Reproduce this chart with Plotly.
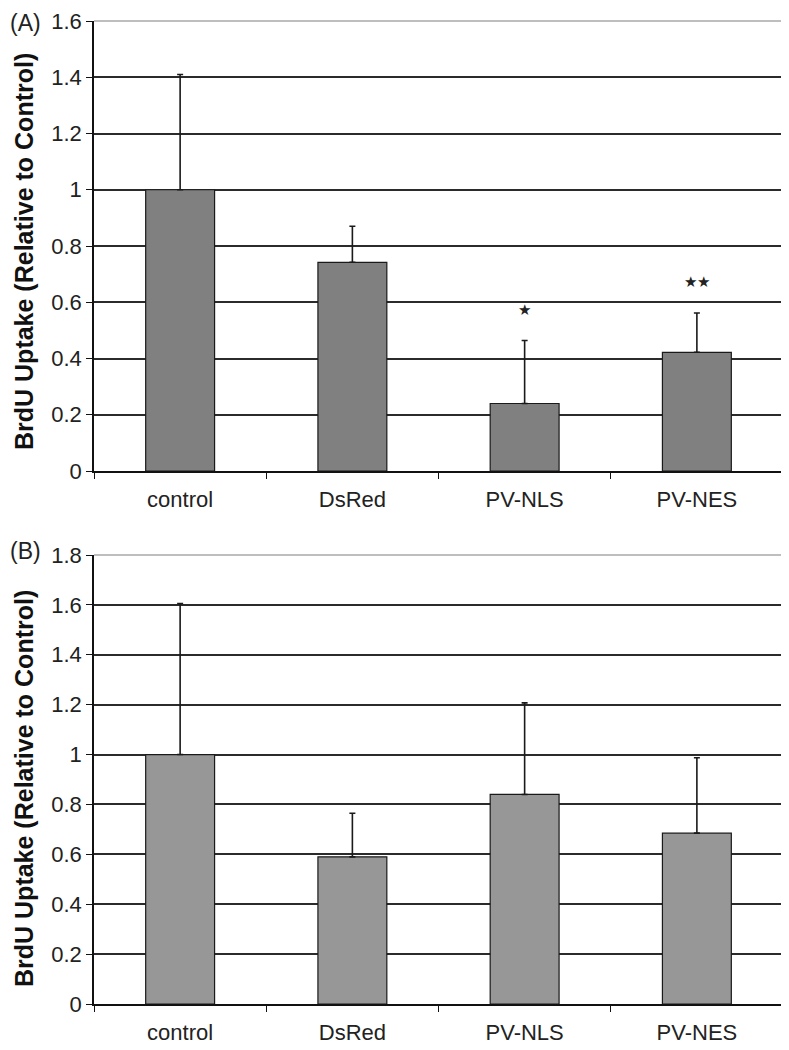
import plotly.graph_objects as go

# --- dati ---
categories = ["control", "DsRed", "PV-NLS", "PV-NES"]

a_values = [1.0, 0.742, 0.24, 0.422]
a_err_up = [0.41, 0.128, 0.224, 0.14]
a_marks = ["", "", "*", "**"]

b_values = [1.0, 0.59, 0.84, 0.685]
b_err_up = [0.605, 0.175, 0.367, 0.302]

a_ticks = [0, 0.2, 0.4, 0.6, 0.8, 1.0, 1.2, 1.4, 1.6]
b_ticks = [0, 0.2, 0.4, 0.6, 0.8, 1.0, 1.2, 1.4, 1.6, 1.8]

FONT = "Liberation Sans, Arial, sans-serif"
# la pagina ha 8px di margine nel body: figura ridotta, coordinate in px della figura
W, H = 781, 1042
XDOM = [86 / W, 775 / W]
A_DOM = [1 - 463 / H, 1 - 13 / H]
B_DOM = [1 - 996 / H, 1 - 547 / H]


def bar_trace(values, err, color, xa, ya):
    return go.Bar(
        x=categories, y=values, width=0.4,
        marker=dict(color=color, line=dict(color="#1a1a1a", width=1.2)),
        error_y=dict(type="data", array=err, arrayminus=[0] * len(err), symmetric=False,
                     color="#1a1a1a", thickness=1.6, width=3),
        xaxis=xa, yaxis=ya, showlegend=False, hoverinfo="x+y",
    )


def yaxis_cfg(domain, ticks, anchor):
    return dict(
        domain=domain, anchor=anchor, range=[0, ticks[-1]], tickvals=ticks,
        ticks="outside", ticklen=6, tickwidth=1.3, tickcolor="#111",
        showline=True, linecolor="#111", linewidth=1.5,
        showgrid=True, gridcolor="#2b2b2b", gridwidth=1.6, zeroline=False,
        tickfont=dict(size=22, color="#222", family=FONT), automargin=False,
    )


def xaxis_cfg(anchor):
    return dict(
        domain=XDOM, anchor=anchor, type="category", tickson="boundaries",
        ticks="outside", ticklen=6, tickwidth=1.3, tickcolor="#111",
        showline=True, linecolor="#111", linewidth=1.5, showgrid=False,
        ticklabelstandoff=8,
        tickfont=dict(size=22, color="#222", family=FONT), automargin=False,
    )


fig = go.Figure()
fig.add_trace(bar_trace(a_values, a_err_up, "#808080", "x", "y"))
fig.add_trace(bar_trace(b_values, b_err_up, "#979797", "x2", "y2"))

fig.update_layout(
    width=W, height=H, template="none",
    paper_bgcolor="white", plot_bgcolor="white",
    margin=dict(l=0, r=0, t=0, b=0),
    bargap=0.6,
    font=dict(family=FONT, color="#222"),
    xaxis=xaxis_cfg("y"),
    yaxis=yaxis_cfg(A_DOM, a_ticks, "x"),
    xaxis2=xaxis_cfg("y2"),
    yaxis2=yaxis_cfg(B_DOM, b_ticks, "x2"),
)

# bordo superiore/destro grigio chiaro (stile Excel)
for xr, yr in (("x domain", "y domain"), ("x2 domain", "y2 domain")):
    fig.add_shape(type="line", xref=xr, yref=yr, x0=0, x1=1, y0=1, y1=1,
                  line=dict(color="#a8a8a8", width=1.5), layer="above")
    fig.add_shape(type="line", xref=xr, yref=yr, x0=1, x1=1, y0=0, y1=1,
                  line=dict(color="#a8a8a8", width=1.5), layer="above")

# asterischi di significativita'
for cat, v, e, m in zip(categories, a_values, a_err_up, a_marks):
    if m:
        fig.add_annotation(x=cat, y=v + e, xref="x", yref="y", text="★" * len(m),
                           showarrow=False, yshift=31, yanchor="middle",
                           font=dict(size=15, color="#222"))

# etichette pannelli e titoli asse y
for lab, ytop, ymid in (("(A)", 1.0, 1 - 244 / H),
                        ("(B)", 1 - 528 / H, 1 - 781 / H)):
    fig.add_annotation(x=0, y=ytop, xref="paper", yref="paper", text=lab,
                       xanchor="left", yanchor="top", showarrow=False,
                       font=dict(size=23, color="#222", family=FONT))
    fig.add_annotation(x=16 / W, y=ymid, xref="paper", yref="paper",
                       text="<b>BrdU Uptake (Relative to Control)</b>", textangle=-90,
                       showarrow=False, xanchor="center", yanchor="middle", borderpad=0,
                       font=dict(size=25, color="#111", family=FONT))

fig.write_html("out.html")
